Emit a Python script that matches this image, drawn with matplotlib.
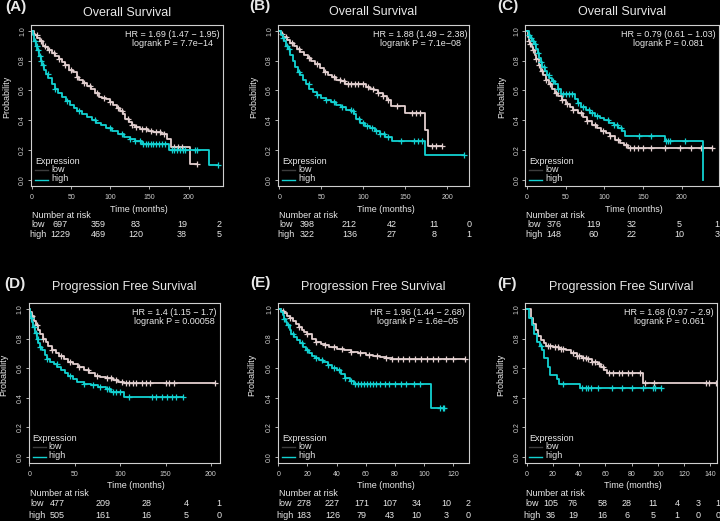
import numpy as np
import matplotlib.pyplot as plt

plt.rcParams['font.family'] = ['Liberation Sans', 'DejaVu Sans']

# ---------------- data ----------------
# (A) Overall survival
a_low_t = [0, 2, 4, 7, 10, 14, 17, 21, 25, 30, 35, 38, 42, 47, 52, 57, 60, 65, 70, 75, 80, 85, 90, 95,
           100, 104, 108, 112, 116, 119, 124, 128, 132, 138, 148, 155, 165, 172, 178, 202]
a_low_s = [1.0, .98, .97, .95, .93, .90, .89, .87, .85, .83, .81, .79, .77, .74, .72, .69, .67, .65, .63, .61,
           .58, .555, .55, .54, .52, .50, .48, .46, .44, .41, .39, .37, .355, .34, .33, .32, .31, .275, .22, .11]
a_low_end = 211
a_low_cens = [6, 11, 16, 22, 28, 35, 42, 50, 58, 66, 74, 83, 92, 100, 110, 115, 122, 128, 133, 140, 146,
              152, 158, 163, 168, 181, 186, 191, 211]
a_high_t = [0, 1, 2, 3, 5, 7, 9, 11, 13, 15, 18, 21, 25, 29, 33, 38, 43, 48, 53, 58, 64, 70, 76, 82, 88,
            95, 102, 110, 118, 125, 132, 140, 175, 226]
a_high_s = [1.0, .97, .95, .93, .90, .87, .83, .80, .77, .74, .71, .68, .64, .61, .58, .555, .53, .50, .48,
            .46, .44, .42, .40, .385, .37, .35, .33, .31, .29, .275, .26, .24, .20, .10]
a_high_end = 237
a_high_cens = [4, 6, 8, 10, 12, 14, 20, 30, 45, 60, 80, 100, 115, 125, 132, 138, 142, 145, 148, 152, 155,
               158, 162, 166, 170, 179, 182, 185, 189, 193, 196, 208, 211, 237]

# (B) Overall survival
b_low_t = [0, 2, 5, 9, 13, 17, 21, 25, 30, 34, 38, 43, 48, 53, 58, 63, 68, 73, 78, 97, 103, 108, 113,
           118, 123, 128, 133, 150, 174, 177]
b_low_s = [1.0, .98, .96, .94, .92, .90, .88, .86, .84, .82, .80, .78, .75, .72, .70, .69, .67, .66, .645,
           .64, .62, .61, .60, .58, .56, .535, .495, .45, .335, .225]
b_low_end = 194
b_low_cens = [3, 8, 15, 24, 35, 45, 55, 65, 72, 77, 82, 86, 90, 94, 100, 106, 112, 118, 124, 130, 140,
              158, 163, 168, 182, 187, 194]
b_high_t = [0, 2, 4, 6, 8, 10, 13, 16, 19, 22, 25, 28, 32, 36, 40, 45, 50, 56, 62, 68, 74, 80, 86, 89,
            92, 96, 102, 108, 114, 120, 126, 134, 174]
b_high_s = [1.0, .97, .95, .93, .90, .88, .84, .80, .76, .72, .70, .67, .64, .61, .59, .57, .55, .535, .52,
            .50, .49, .47, .46, .44, .41, .38, .36, .345, .33, .31, .29, .26, .17]
b_high_end = 220
b_high_cens = [5, 9, 12, 24, 35, 45, 56, 65, 75, 85, 88, 95, 100, 105, 110, 115, 120, 125, 130, 145, 160,
               165, 170, 220]

# (C) Overall survival
c_low_t = [0, 1, 2, 4, 6, 8, 10, 12, 15, 18, 21, 24, 28, 32, 36, 40, 45, 50, 55, 60, 66, 72, 78, 84, 90,
           96, 102, 108, 114, 120, 126, 131]
c_low_s = [1.0, .96, .93, .91, .89, .87, .84, .81, .77, .73, .70, .67, .64, .61, .585, .56, .535, .51, .49,
           .47, .45, .42, .395, .37, .35, .33, .315, .295, .27, .25, .235, .215]
c_low_end = 239
c_low_cens = [2, 4, 8, 12, 16, 20, 25, 30, 38, 45, 52, 60, 70, 78, 88, 98, 108, 118, 128, 133, 138, 143,
              150, 160, 178, 198, 212, 225, 239]
c_high_t = [0, 2, 4, 6, 9, 12, 14, 16, 18, 20, 23, 26, 29, 32, 36, 40, 44, 62, 66, 70, 76, 82, 88, 94,
            100, 106, 112, 118, 123, 127, 178, 228]
c_high_s = [1.0, .97, .95, .93, .91, .88, .85, .82, .79, .76, .73, .70, .68, .66, .64, .61, .575, .545,
            .515, .49, .47, .45, .43, .415, .40, .385, .37, .35, .33, .295, .26, 0.0]
c_high_end = 228
c_high_cens = [2, 5, 8, 10, 14, 18, 22, 28, 34, 40, 46, 50, 54, 58, 66, 73, 80, 84, 90, 105, 112, 117,
               121, 145, 160, 180, 182, 185, 205]

# (D) Progression free survival
d_low_t = [0, 1, 3, 5, 7, 9, 12, 15, 18, 21, 25, 29, 33, 38, 43, 48, 54, 60, 66, 72, 78, 84, 92, 98, 104]
d_low_s = [1.0, .98, .95, .92, .89, .86, .83, .80, .78, .75, .72, .70, .68, .66, .645, .625, .605, .585,
           .565, .55, .54, .535, .52, .51, .50]
d_low_end = 204
d_low_cens = [3, 8, 15, 25, 35, 45, 55, 65, 75, 85, 90, 95, 102, 106, 110, 114, 118, 124, 128, 133, 150,
              154, 159, 204]
d_high_t = [0, 1, 2, 3, 4, 6, 8, 10, 12, 14, 17, 20, 23, 27, 31, 35, 39, 43, 48, 53, 60, 68, 76, 84, 90, 104]
d_high_s = [1.0, .97, .94, .91, .88, .84, .80, .77, .745, .72, .69, .665, .645, .625, .61, .59, .565, .545,
            .525, .51, .495, .485, .475, .46, .44, .405]
d_high_end = 169
d_high_cens = [2, 5, 7, 9, 12, 20, 30, 45, 60, 70, 78, 85, 88, 92, 96, 100, 110, 135, 140, 146, 152, 157,
               162, 169]

# (E) Progression free survival
e_low_t = [0, 2, 4, 6, 8, 10, 12, 14, 16, 18, 20, 23, 26, 29, 32, 35, 40, 45, 50, 55, 60, 65, 70, 74, 78]
e_low_s = [1.0, .985, .97, .955, .94, .92, .90, .88, .86, .845, .83, .80, .78, .765, .755, .745, .73, .72,
           .71, .70, .69, .68, .675, .67, .665]
e_low_end = 128
e_low_cens = [3, 8, 14, 20, 26, 32, 38, 44, 50, 56, 62, 68, 74, 78, 82, 86, 90, 94, 98, 102, 106, 110,
              115, 120, 128]
e_high_t = [0, 2, 3, 4, 5, 6, 8, 9, 11, 13, 15, 17, 19, 21, 23, 25, 28, 31, 34, 37, 40, 43, 46, 49, 52, 105]
e_high_s = [1.0, .98, .96, .93, .91, .89, .86, .83, .81, .79, .77, .745, .72, .70, .68, .67, .655, .64,
            .62, .60, .585, .56, .535, .515, .495, .33]
e_high_end = 114
e_high_cens = [4, 7, 10, 16, 20, 26, 30, 34, 38, 42, 46, 50, 53, 55, 57, 59, 61, 63, 65, 67, 70, 73, 76,
               80, 84, 88, 93, 97, 111, 113, 114]

# (F) Progression free survival
f_low_t = [0, 3, 5, 7, 9, 11, 13, 15, 20, 25, 30, 34, 38, 42, 46, 50, 54, 57, 59, 61, 89]
f_low_s = [1.0, .94, .90, .86, .82, .79, .77, .75, .74, .73, .72, .70, .68, .67, .66, .645, .63, .61,
           .59, .57, .50]
f_low_end = 144
f_low_cens = [16, 18, 22, 24, 26, 28, 35, 38, 40, 43, 45, 47, 50, 52, 55, 58, 63, 66, 70, 73, 77, 80, 86,
              90, 97, 137, 139, 144]
f_high_t = [0, 2, 4, 6, 8, 10, 12, 13, 16, 18, 23, 25, 41]
f_high_s = [1.0, .94, .89, .83, .78, .75, .72, .67, .61, .555, .525, .49, .465]
f_high_end = 102
f_high_cens = [11, 28, 42, 45, 47, 49, 54, 65, 73, 80, 89, 96, 98, 102]

# stats text
hr_text = ['HR = 1.69 (1.47 − 1.95)', 'HR = 1.88 (1.49 − 2.38)', 'HR = 0.79 (0.61 − 1.03)',
           'HR = 1.4 (1.15 − 1.7)', 'HR = 1.96 (1.44 − 2.68)', 'HR = 1.68 (0.97 − 2.9)']
p_text = ['logrank P = 7.7e−14', 'logrank P = 7.1e−08', 'logrank P = 0.081',
          'logrank P = 0.00058', 'logrank P = 1.6e−05', 'logrank P = 0.061']

# number at risk
risk_low = [[697, 359, 83, 19, 2], [398, 212, 42, 11, 0], [376, 119, 32, 5, 1],
            [477, 209, 28, 4, 1], [278, 227, 171, 107, 34, 10, 2], [105, 76, 58, 28, 11, 4, 3, 1]]
risk_high = [[1229, 469, 120, 38, 5], [322, 136, 27, 8, 1], [148, 60, 22, 10, 3],
             [505, 161, 16, 5, 0], [183, 126, 79, 43, 10, 3, 0], [36, 19, 16, 6, 5, 1, 0, 0]]

tags = ['(A)', '(B)', '(C)', '(D)', '(E)', '(F)']
titles = ['Overall Survival'] * 3 + ['Progression Free Survival'] * 3
curves = [
    ((a_low_t, a_low_s, a_low_end, a_low_cens), (a_high_t, a_high_s, a_high_end, a_high_cens)),
    ((b_low_t, b_low_s, b_low_end, b_low_cens), (b_high_t, b_high_s, b_high_end, b_high_cens)),
    ((c_low_t, c_low_s, c_low_end, c_low_cens), (c_high_t, c_high_s, c_high_end, c_high_cens)),
    ((d_low_t, d_low_s, d_low_end, d_low_cens), (d_high_t, d_high_s, d_high_end, d_high_cens)),
    ((e_low_t, e_low_s, e_low_end, e_low_cens), (e_high_t, e_high_s, e_high_end, e_high_cens)),
    ((f_low_t, f_low_s, f_low_end, f_low_cens), (f_high_t, f_high_s, f_high_end, f_high_cens)),
]

# ---------------- layout (pixels) ----------------
W, H = 720, 521
boxes = [(31, 24.7, 223, 186), (278, 24.7, 469, 186), (525.3, 24.7, 718.7, 186),
         (28.7, 303, 220, 463), (278, 303, 469, 463), (525.3, 303, 717, 463)]
xlims = [(-1.3, 244), (-1.5, 226), (-2.2, 248), (-0.7, 210), (-0.2, 131), (-1, 145)]
xticks = [np.arange(0, 201, 50)] * 4 + [np.arange(0, 121, 20), np.arange(0, 141, 20)]
tag_xy = [(15.5, 7.3), (260, 6), (508, 6), (15, 284), (260.3, 282.7), (506.7, 284)]
title_y = [13.5, 11.7, 11.7, 287.3, 287.3, 287.3]
ylab_x = [6.7, 253.3, 501.7, 4, 251.7, 500.7]
hr_x = [0.737, 0.745, 0.738, 0.76, 0.731, 0.751]
risk_cols = [[60, 98, 136, 182, 219.5], [307.5, 349.5, 391.5, 434.5, 469], [554, 593.5, 631.5, 679, 717],
             [57.5, 103, 146.7, 186, 219], [304, 332.5, 361.7, 390, 416.7, 446, 468],
             [550.7, 573, 602.7, 626.7, 652.7, 677, 698, 717.7]]
risk_lab_x = [38.5, 286.5, 534.5, 37.3, 285, 532.5]
risk_rows = [(209, 216, 224.3, 234.5)] * 3 + [(486, 493, 504, 515.7)] * 3

LOW_C = '#e2cfcf'
HIGH_C = '#12d2d2'
FG = '#e8e8e8'
AX_C = '#cfcfcf'

fig = plt.figure(figsize=(W / 100, H / 100), dpi=100, facecolor='black')


def fx(x):
    return x / W


def fy(y):
    return 1 - y / H


def draw_km(ax, t, s, end, cens, color):
    tt = list(t) + [end]
    ss = list(s) + [s[-1]]
    ax.plot(tt, ss, drawstyle='steps-post', color=color, lw=1.3)
    idx = np.searchsorted(np.array(t), np.array(cens), side='right') - 1
    ax.plot(cens, np.array(s)[idx], ls='none', marker='+', ms=4, mew=0.9, color=color)


for i in range(6):
    l, t, r, b = boxes[i]
    ax = fig.add_axes([fx(l), fy(b), (r - l) / W, (b - t) / H])
    ax.set_facecolor('black')
    (lo, hi) = curves[i]
    draw_km(ax, *lo, LOW_C)
    draw_km(ax, *hi, HIGH_C)
    ax.set_xlim(*xlims[i])
    ax.set_ylim(-0.04, 1.04)
    ax.set_xticks(xticks[i])
    ax.set_yticks(np.arange(0, 1.01, 0.2))
    ax.set_yticklabels(['%.1f' % v for v in np.arange(0, 1.01, 0.2)], rotation=90, va='center')
    ax.tick_params(colors=AX_C, labelsize=5, length=2.5, width=0.6, pad=1)
    ax.tick_params(axis='x', pad=3)
    for sp in ax.spines.values():
        sp.set_color(AX_C)
        sp.set_linewidth(0.8)

    # HR / logrank
    ax.text(hr_x[i], 0.94, hr_text[i], transform=ax.transAxes, ha='center', va='center',
            fontsize=6.5, color=FG)
    ax.text(hr_x[i], 0.885, p_text[i], transform=ax.transAxes, ha='center', va='center',
            fontsize=6.5, color=FG)

    # legend
    ax.text(0.02, 0.152, 'Expression', transform=ax.transAxes, ha='left', va='center',
            fontsize=6.5, color=FG)
    ax.plot([0.02, 0.088], [0.097, 0.097], transform=ax.transAxes, color='#3c3c3c', lw=1.0)
    ax.plot([0.02, 0.088], [0.040, 0.040], transform=ax.transAxes, color=HIGH_C, lw=1.0)
    ax.text(0.105, 0.101, 'low', transform=ax.transAxes, ha='left', va='center', fontsize=6.5, color=FG)
    ax.text(0.105, 0.046, 'high', transform=ax.transAxes, ha='left', va='center', fontsize=6.5, color=FG)

    # titles and labels
    fig.text(fx(tag_xy[i][0]), fy(tag_xy[i][1]), tags[i], ha='center', va='center',
             fontsize=11, fontweight='bold', color=FG)
    fig.text(fx((l + r) / 2), fy(title_y[i]), titles[i], ha='center', va='center', fontsize=9, color=FG)
    fig.text(fx(ylab_x[i]), fy((t + b) / 2 - 8.5), 'Probability', ha='center', va='center',
             rotation=90, fontsize=6.5, color=FG)

    ty, ny, ly, hy = risk_rows[i]
    fig.text(fx((l + r) / 2 + 12), fy(ty), 'Time (months)', ha='center', va='center', fontsize=6.5, color=FG)
    fig.text(fx(l + 1), fy(ny), 'Number at risk', ha='left', va='center', fontsize=6.5, color=FG)
    fig.text(fx(risk_lab_x[i]), fy(ly), 'low', ha='center', va='center', fontsize=6.5, color=FG)
    fig.text(fx(risk_lab_x[i]), fy(hy), 'high', ha='center', va='center', fontsize=6.5, color=FG)
    for cx, vl, vh in zip(risk_cols[i], risk_low[i], risk_high[i]):
        fig.text(fx(cx), fy(ly), str(vl), ha='center', va='center', fontsize=6.5, color=FG)
        fig.text(fx(cx), fy(hy), str(vh), ha='center', va='center', fontsize=6.5, color=FG)

fig.savefig('out.png', dpi=100, facecolor='black')
